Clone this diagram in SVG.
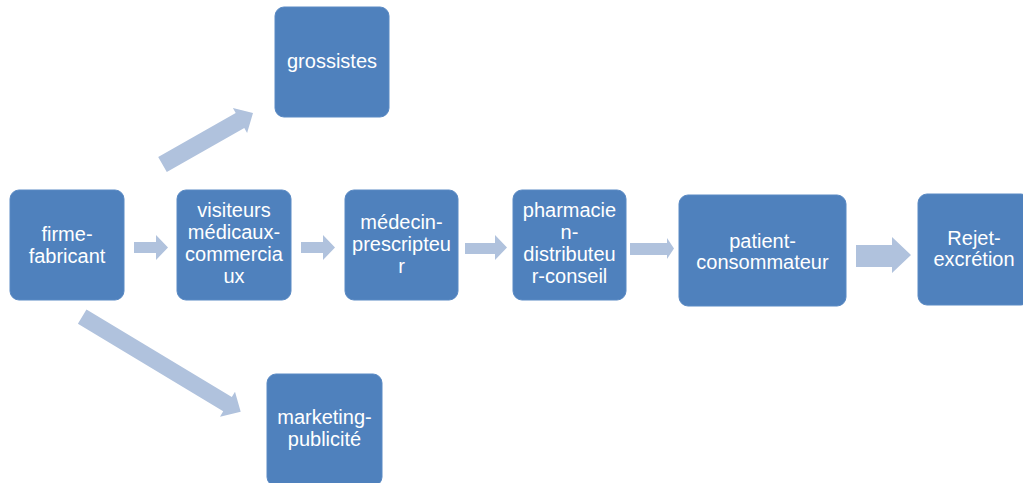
<svg xmlns="http://www.w3.org/2000/svg" width="1023" height="483" viewBox="0 0 1023 483">
<style>
.box{fill:#4F81BD;stroke:#5A8AC4;stroke-width:1}
.lbl{font-family:"Liberation Sans",Arial,sans-serif;font-size:20px;fill:#FFFFFF;text-anchor:middle}
.arr{fill:#B0C2DD}
</style>
<rect width="1023" height="483" fill="#FFFFFF"/>
<g id="connectors">
<polygon class="arr" points="134,242 156,242 156,235 168,247.5 156,260 156,253 134,253"/>
<polygon class="arr" points="301,242 323,242 323,235 335,247.5 323,260 323,253 301,253"/>
<polygon class="arr" points="465,243 495,243 495,235 507,247.5 495,260 495,254 465,254"/>
<polygon class="arr" points="630,243 667,243 667,238 674,248.5 667,259 667,255 630,255"/>
<polygon class="arr" points="856,245 892,245 892,237 911,255 892,273 892,267 856,267"/>
<polygon class="arr" points="158.2,156.9 235.7,112.9 232.9,108.1 253,113 247.1,133 244.3,128.1 166.8,172.1"/>
<polygon class="arr" points="86.5,309.6 231.8,397.1 235,391.7 240.7,411.7 220,416.7 223.2,411.3 77.9,323.8"/>
</g>
<g id="node-firme">
<rect class="box" x="10" y="190" width="114" height="110" rx="9"/>
<text class="lbl" x="67" y="241">firme-</text>
<text class="lbl" x="67" y="263">fabricant</text>
</g>
<g id="node-visiteurs">
<rect class="box" x="177" y="190" width="114" height="110" rx="9"/>
<text class="lbl" x="234" y="217">visiteurs</text>
<text class="lbl" x="234" y="239">médicaux-</text>
<text class="lbl" x="234" y="261">commercia</text>
<text class="lbl" x="234" y="283">ux</text>
</g>
<g id="node-medecin">
<rect class="box" x="345" y="190" width="113" height="110" rx="9"/>
<text class="lbl" x="401.5" y="229">médecin-</text>
<text class="lbl" x="401.5" y="251">prescripteu</text>
<text class="lbl" x="401.5" y="273">r</text>
</g>
<g id="node-pharmacien">
<rect class="box" x="513" y="190" width="113" height="110" rx="9"/>
<text class="lbl" x="569.5" y="217">pharmacie</text>
<text class="lbl" x="569.5" y="239">n-</text>
<text class="lbl" x="569.5" y="261">distributeu</text>
<text class="lbl" x="569.5" y="283">r-conseil</text>
</g>
<g id="node-patient">
<rect class="box" x="679" y="195" width="167" height="111" rx="9"/>
<text class="lbl" x="762.5" y="248">patient-</text>
<text class="lbl" x="762.5" y="269">consommateur</text>
</g>
<g id="node-rejet">
<rect class="box" x="918" y="194" width="112" height="111" rx="9"/>
<text class="lbl" x="974" y="245">Rejet-</text>
<text class="lbl" x="974" y="266">excrétion</text>
</g>
<g id="node-grossistes">
<rect class="box" x="275" y="7" width="114" height="110" rx="9"/>
<text class="lbl" x="332" y="68">grossistes</text>
</g>
<g id="node-marketing">
<rect class="box" x="267" y="374" width="115" height="112" rx="9"/>
<text class="lbl" x="324.5" y="424">marketing-</text>
<text class="lbl" x="324.5" y="446">publicité</text>
</g>
</svg>
